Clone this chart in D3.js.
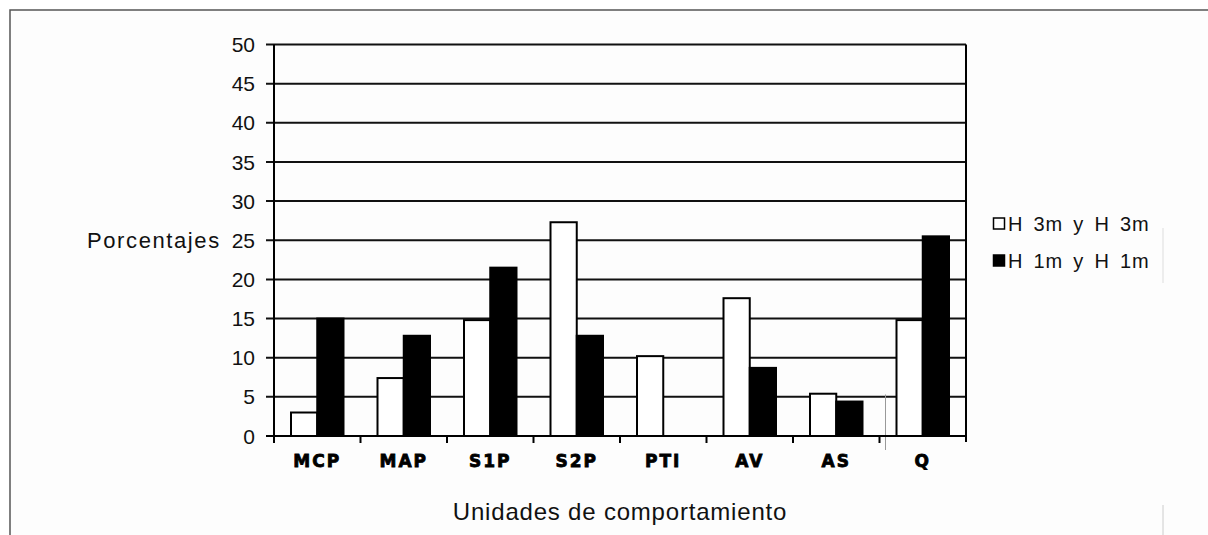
<!DOCTYPE html>
<html>
<head>
<meta charset="utf-8">
<script src="https://cdn.jsdelivr.net/npm/d3@7"></script>
<style>
  body { margin: 0; background: #ffffff; }
  text { font-family: "Liberation Sans", Arial, sans-serif; fill: #111; }
  .cat-label { font-family: "DejaVu Sans", sans-serif; font-weight: bold; }
</style>
</head>
<body>
<div id="chart"></div>
<script>
// chart data
let categories = ["MCP", "MAP", "S1P", "S2P", "PTI", "AV", "AS", "Q"];
let seriesNames = ["H 3m y H 3m", "H 1m y H 1m"];
let h3mValues = [3, 7.4, 14.8, 27.3, 10.2, 17.6, 5.4, 14.8];
let h1mValues = [15, 12.8, 21.5, 12.8, 0, 8.7, 4.4, 25.5];
let yTicks = [0, 5, 10, 15, 20, 25, 30, 35, 40, 45, 50];

let width = 1208;
let height = 535;
let margin = { top: 44.5, right: 242, bottom: 99, left: 274 };

let svg = d3
  .select("#chart")
  .append("svg")
  .attr("width", width)
  .attr("height", height);

// outer frame
svg.append("rect")
  .attr("x", 10)
  .attr("y", 10)
  .attr("width", width)
  .attr("height", height)
  .attr("fill", "#fdfdfd")
  .attr("stroke", "#555")
  .attr("stroke-width", 1.5);

let plotW = width - margin.left - margin.right;
let plotH = height - margin.top - margin.bottom;

let g = svg.append("g")
  .attr("transform", "translate(" + margin.left + "," + margin.top + ")");

let x0 = d3.scaleBand().domain(categories).range([0, plotW]).padding(0);
let x1 = d3.scaleBand()
  .domain([0, 1])
  .range([17, x0.bandwidth() - 17])
  .padding(0);
let y = d3.scaleLinear().domain([0, 50]).range([plotH, 0]);

// horizontal gridlines
g.selectAll(".grid")
  .data(yTicks)
  .enter()
  .append("line")
  .attr("x1", -8)
  .attr("x2", plotW)
  .attr("y1", (d) => y(d))
  .attr("y2", (d) => y(d))
  .attr("stroke", "#111")
  .attr("stroke-width", 2);

// y tick labels
g.selectAll(".ylab")
  .data(yTicks)
  .enter()
  .append("text")
  .attr("x", -19)
  .attr("y", (d) => y(d))
  .attr("dy", "0.36em")
  .attr("text-anchor", "end")
  .style("font-size", "21px")
  .text((d) => d);

// faint stray line near Q
g.append("line")
  .attr("x1", x0("Q") + 6)
  .attr("x2", x0("Q") + 6)
  .attr("y1", y(5.3))
  .attr("y2", plotH + 14)
  .attr("stroke", "#999")
  .attr("stroke-width", 1);

// bars
let rows = categories.map((c, i) => ({ cat: c, vals: [h3mValues[i], h1mValues[i]] }));
let groups = g.selectAll(".cat")
  .data(rows)
  .enter()
  .append("g")
  .attr("transform", (d) => "translate(" + x0(d.cat) + ",0)");

groups.selectAll("rect")
  .data((d) => d.vals.map((v, s) => ({ v: v, s: s })).filter((b) => b.v > 0))
  .enter()
  .append("rect")
  .attr("x", (d) => x1(d.s))
  .attr("y", (d) => y(d.v))
  .attr("width", x1.bandwidth())
  .attr("height", (d) => plotH - y(d.v))
  .attr("fill", (d) => (d.s === 0 ? "#ffffff" : "#000000"))
  .attr("stroke", "#000")
  .attr("stroke-width", 2);

// axes frame: left, right, bottom
g.append("line")
  .attr("x1", 0).attr("x2", 0)
  .attr("y1", 0).attr("y2", plotH)
  .attr("stroke", "#000").attr("stroke-width", 2);
g.append("line")
  .attr("x1", plotW).attr("x2", plotW)
  .attr("y1", 0).attr("y2", plotH + 6)
  .attr("stroke", "#000").attr("stroke-width", 2);
g.append("line")
  .attr("x1", -8).attr("x2", plotW)
  .attr("y1", plotH).attr("y2", plotH)
  .attr("stroke", "#000").attr("stroke-width", 2);

// x ticks between categories
g.selectAll(".xtick")
  .data(categories)
  .enter()
  .append("line")
  .attr("x1", (d) => x0(d))
  .attr("x2", (d) => x0(d))
  .attr("y1", plotH)
  .attr("y2", plotH + 7)
  .attr("stroke", "#000")
  .attr("stroke-width", 2);

// category labels (heavy, blocky like the original)
g.selectAll(".cat-label")
  .data(categories)
  .enter()
  .append("text")
  .attr("class", "cat-label")
  .attr("x", (d) => x0(d) + x0.bandwidth() / 2)
  .attr("y", plotH + 31)
  .attr("text-anchor", "middle")
  .style("font-size", "17px")
  .style("letter-spacing", "2px")
  .style("fill", "#000")
  .style("stroke", "#000")
  .style("stroke-width", "0.8px")
  .text((d) => d);

// axis titles
g.append("text")
  .attr("x", plotW / 2)
  .attr("y", plotH + 84)
  .attr("text-anchor", "middle")
  .style("font-size", "24px")
  .style("letter-spacing", "0.8px")
  .text("Unidades de comportamiento");

svg.append("text")
  .attr("x", 87)
  .attr("y", margin.top + y(25))
  .attr("dy", "0.36em")
  .style("font-size", "22px")
  .style("letter-spacing", "1.6px")
  .text("Porcentajes");

// legend
let legend = svg.append("g").attr("transform", "translate(993,0)");
let legY = [223.5, 260.5];
seriesNames.forEach((name, i) => {
  legend.append("rect")
    .attr("x", 0.5)
    .attr("y", legY[i] - 5.5)
    .attr("width", 11)
    .attr("height", 11)
    .attr("fill", i === 0 ? "#fff" : "#000")
    .attr("stroke", "#000")
    .attr("stroke-width", 1.5);
  legend.append("text")
    .attr("x", 15)
    .attr("y", legY[i])
    .attr("dy", "0.36em")
    .style("font-size", "20px")
    .style("letter-spacing", "0.8px")
    .style("word-spacing", "4px")
    .text(name);
});

// faint remnants of the legend / outer border on the right
svg.append("line")
  .attr("x1", 1163).attr("x2", 1163)
  .attr("y1", 228).attr("y2", 283)
  .attr("stroke", "#ddd").attr("stroke-width", 1);
svg.append("line")
  .attr("x1", 1163).attr("x2", 1163)
  .attr("y1", 505).attr("y2", 535)
  .attr("stroke", "#ccc").attr("stroke-width", 1);
</script>
</body>
</html>
